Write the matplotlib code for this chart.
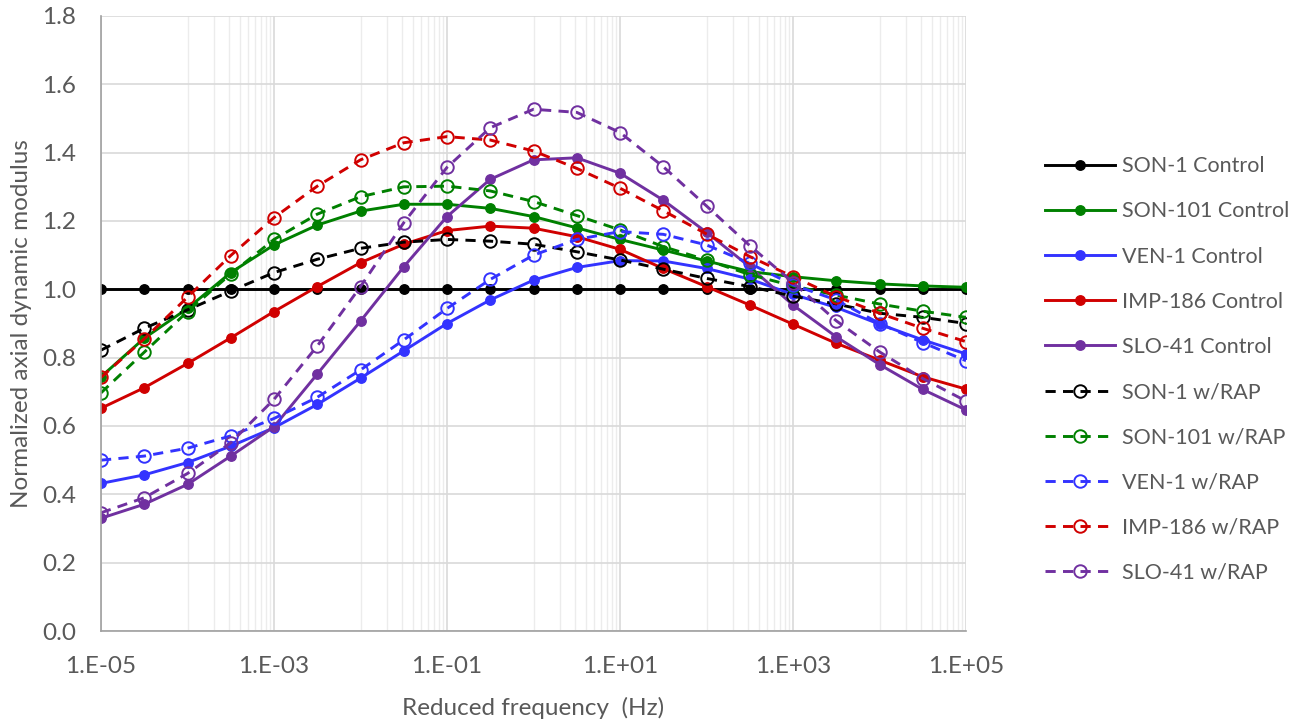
import numpy as np
import matplotlib
matplotlib.use("Agg")
from matplotlib import pyplot as plt
from matplotlib.ticker import FixedLocator, NullFormatter

plt.rcParams['font.family'] = ['Lato', 'DejaVu Sans']

# reduced frequency, half-decade steps from 1e-5 to 1e5 Hz
freq = [10 ** (k / 2) for k in range(-10, 11)]

son1_ctrl = [1.0] * 21
son101_ctrl = [0.744, 0.857, 0.944, 1.049, 1.130, 1.188, 1.229, 1.249, 1.249, 1.237, 1.213,
               1.180, 1.146, 1.115, 1.083, 1.052, 1.037, 1.025, 1.016, 1.010, 1.006]
ven1_ctrl = [0.432, 0.457, 0.493, 0.541, 0.595, 0.663, 0.740, 0.820, 0.900, 0.969, 1.027,
             1.064, 1.084, 1.083, 1.061, 1.030, 0.985, 0.947, 0.898, 0.852, 0.811]
imp186_ctrl = [0.652, 0.712, 0.783, 0.858, 0.935, 1.008, 1.078, 1.132, 1.172, 1.185, 1.179,
               1.154, 1.117, 1.061, 1.008, 0.954, 0.898, 0.842, 0.793, 0.744, 0.708]
slo41_ctrl = [0.330, 0.371, 0.429, 0.512, 0.598, 0.752, 0.907, 1.066, 1.213, 1.322, 1.379,
              1.385, 1.340, 1.261, 1.167, 1.066, 0.954, 0.861, 0.780, 0.707, 0.647]

son1_rap = [0.822, 0.886, 0.940, 0.995, 1.049, 1.088, 1.120, 1.138, 1.146, 1.141, 1.132,
            1.110, 1.086, 1.059, 1.032, 1.008, 0.980, 0.957, 0.930, 0.918, 0.900]
son101_rap = [0.697, 0.816, 0.935, 1.045, 1.146, 1.220, 1.271, 1.300, 1.302, 1.288, 1.257,
              1.216, 1.174, 1.125, 1.086, 1.043, 1.010, 0.983, 0.957, 0.936, 0.918]
ven1_rap = [0.500, 0.512, 0.535, 0.571, 0.622, 0.684, 0.764, 0.852, 0.944, 1.029, 1.100,
            1.146, 1.169, 1.161, 1.130, 1.076, 1.013, 0.969, 0.900, 0.844, 0.791]
imp186_rap = [0.742, 0.855, 0.977, 1.099, 1.210, 1.302, 1.379, 1.429, 1.447, 1.437, 1.405,
              1.354, 1.296, 1.230, 1.162, 1.096, 1.037, 0.979, 0.930, 0.886, 0.847]
slo41_rap = [0.346, 0.390, 0.461, 0.551, 0.678, 0.834, 1.008, 1.195, 1.357, 1.473, 1.527,
             1.518, 1.459, 1.359, 1.244, 1.128, 1.020, 0.908, 0.817, 0.739, 0.673]

labels_ctrl = ["SON-1 Control", "SON-101 Control", "VEN-1 Control", "IMP-186 Control", "SLO-41 Control"]
labels_rap = ["SON-1 w/RAP", "SON-101 w/RAP", "VEN-1 w/RAP", "IMP-186 w/RAP", "SLO-41 w/RAP"]
colors = ["#000000", "#008000", "#3333ff", "#d00000", "#7030a0"]

fig = plt.figure(figsize=(12.99, 7.24), dpi=100)
ax = fig.add_axes([101 / 1299, 1 - 631 / 724, 865 / 1299, 615 / 724])

for y, lab, c in zip([son1_ctrl, son101_ctrl, ven1_ctrl, imp186_ctrl, slo41_ctrl], labels_ctrl, colors):
    ax.plot(freq, y, '-o', color=c, lw=2.1, ms=6.8, label=lab)
for y, lab, c in zip([son1_rap, son101_rap, ven1_rap, imp186_rap, slo41_rap], labels_rap, colors):
    ax.plot(freq, y, '--o', color=c, lw=2.1, ms=9, mfc='none', mew=1.4,
            dashes=(3.5, 2.5), label=lab)

ax.set_xscale('log')
ax.set_xlim(1e-5, 1e5)
ax.set_ylim(0, 1.8)

major = [10.0 ** k for k in range(-5, 6, 2)]
ax.xaxis.set_major_locator(FixedLocator(major))
ax.set_xticklabels(["1.E-05", "1.E-03", "1.E-01", "1.E+01", "1.E+03", "1.E+05"])
minor = []
for k in range(-4, 5, 2):
    minor += [m * 10.0 ** k for m in range(1, 10)]
ax.xaxis.set_minor_locator(FixedLocator(minor))
ax.xaxis.set_minor_formatter(NullFormatter())
ax.set_yticks(np.arange(0, 1.81, 0.2))
ax.set_yticklabels(["%.1f" % v for v in np.arange(0, 1.81, 0.2)])

ax.grid(True, which='major', color='#d9d9d9', lw=1.2)
ax.grid(True, which='minor', axis='x', color='#ececec', lw=1.0)
ax.set_axisbelow(True)
for s in ['top', 'right']:
    ax.spines[s].set_visible(False)
ax.spines['left'].set_color('#a0a0a0')
ax.spines['bottom'].set_color('#a0a0a0')
ax.spines['left'].set_linewidth(1.2)
ax.spines['bottom'].set_linewidth(1.2)
ax.tick_params(which='both', length=0, labelsize=17.5, colors='#595959')
ax.tick_params(axis='x', pad=18)
ax.tick_params(axis='y', pad=18)

ax.set_xlabel("Reduced frequency  (Hz)", fontsize=17.5, color='#595959', labelpad=14)
ax.set_ylabel("Normalized axial dynamic modulus", fontsize=17.5, color='#595959', labelpad=7)

fig.legend(loc='center left', bbox_to_anchor=(1045 / 1299, 1 - 369.5 / 724), frameon=False,
           fontsize=15.5, handlelength=3.25, handletextpad=0.33, labelspacing=1.17,
           borderpad=0, borderaxespad=0, labelcolor='#595959')

fig.savefig("out.png", dpi=100)
